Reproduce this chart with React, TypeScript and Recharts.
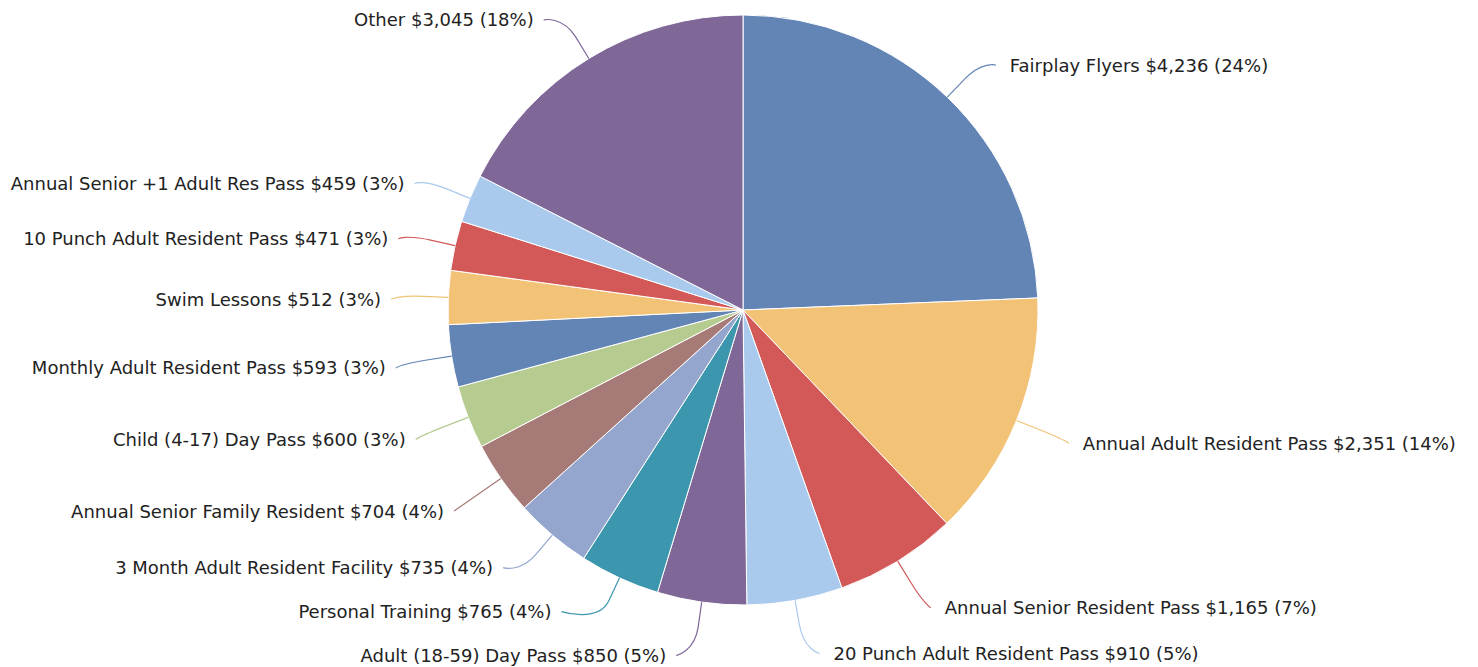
import { PieChart, Pie, Cell } from "recharts";

const categories = [
  "Fairplay Flyers",
  "Annual Adult Resident Pass",
  "Annual Senior Resident Pass",
  "20 Punch Adult Resident Pass",
  "Adult (18-59) Day Pass",
  "Personal Training",
  "3 Month Adult Resident Facility",
  "Annual Senior Family Resident",
  "Child (4-17) Day Pass",
  "Monthly Adult Resident Pass",
  "Swim Lessons",
  "10 Punch Adult Resident Pass",
  "Annual Senior +1 Adult Res Pass",
  "Other",
];

const revenue = [4236, 2351, 1165, 910, 850, 765, 735, 704, 600, 593, 512, 471, 459, 3045];

const colors = [
  "#6385b5",
  "#f2c377",
  "#d35858",
  "#a9c9ed",
  "#7f6898",
  "#3c96ad",
  "#94a6cd",
  "#a67a76",
  "#b5cb90",
  "#6385b5",
  "#f2c377",
  "#d35858",
  "#a9c9ed",
  "#7f6898",
];

const data = categories.map((name, i) => ({ name, value: revenue[i] }));

const W = 1478;
const H = 667;
const CX = 743;
const CY = 310;
const R = 295;
const LABEL_RY = 345; // where labels sit vertically
const LABEL_DY = 4;
const LABEL_RX = 352; // circle used to find label x
const MIN_GAP = 44;

// highcharts-ish label placement: natural y on a circle, then push up on overlap
const total = revenue.reduce((a, b) => a + b, 0);
const labelY: number[] = [];
const labelLeft: boolean[] = [];
{
  let acc = 0;
  revenue.forEach((v, i) => {
    const mid = 90 - ((acc + v / 2) / total) * 360;
    acc += v;
    const rad = (mid * Math.PI) / 180;
    labelY[i] = CY + LABEL_DY - Math.sin(rad) * LABEL_RY;
    labelLeft[i] = Math.cos(rad) < 0;
  });
  [true, false].forEach((side) => {
    const idx = revenue.map((_, i) => i).filter((i) => labelLeft[i] === side);
    idx.sort((a, b) => labelY[b] - labelY[a]);
    for (let k = 1; k < idx.length; k++) {
      const prev = labelY[idx[k - 1]];
      if (labelY[idx[k]] > prev - MIN_GAP) labelY[idx[k]] = prev - MIN_GAP;
    }
  });
}

const money = (v: number) => "$" + v.toLocaleString("en-US");

function renderLabel(props: any) {
  const { cx, cy, midAngle, outerRadius, index, percent, value, name } = props;
  const rad = (midAngle * Math.PI) / 180;
  const cos = Math.cos(rad);
  const sin = -Math.sin(rad);
  const left = labelLeft[index];
  const y = labelY[index];
  const dy = y - cy;
  const dx = Math.sqrt(Math.max(LABEL_RX * LABEL_RX - dy * dy, 0));
  const x = left ? cx - dx : cx + dx;
  const ex = cx + cos * outerRadius;
  const ey = cy + sin * outerRadius;
  const bx = cx + cos * (outerRadius + 25);
  const by = cy + sin * (outerRadius + 25);
  const d = `M ${x} ${y} C ${x} ${y} ${2 * bx - ex} ${2 * by - ey} ${bx} ${by} L ${ex} ${ey}`;
  return (
    <g key={`lbl-${index}`}>
      <path d={d} stroke={colors[index]} strokeWidth={1.2} fill="none" />
      <text
        x={left ? x - 10 : x + 14}
        y={y}
        textAnchor={left ? "end" : "start"}
        dominantBaseline="central"
        fontFamily="'DejaVu Sans', Verdana, sans-serif"
        fontSize={18}
        fill="#222222"
      >
        {`${name} ${money(value)} (${Math.round(percent * 100)}%)`}
      </text>
    </g>
  );
}

export default function App() {
  return (
    <div style={{ position: "absolute", left: 0, top: 0, width: W, height: H, background: "#fff" }}>
      <PieChart width={W} height={H} margin={{ top: 0, right: 0, bottom: 0, left: 0 }}>
        <Pie
          data={data}
          dataKey="value"
          nameKey="name"
          cx={CX}
          cy={CY}
          outerRadius={R}
          startAngle={90}
          endAngle={-270}
          stroke="#ffffff"
          strokeWidth={1}
          label={renderLabel}
          labelLine={false}
          isAnimationActive={false}
        >
          {data.map((d, i) => (
            <Cell key={d.name} fill={colors[i]} />
          ))}
        </Pie>
      </PieChart>
    </div>
  );
}
